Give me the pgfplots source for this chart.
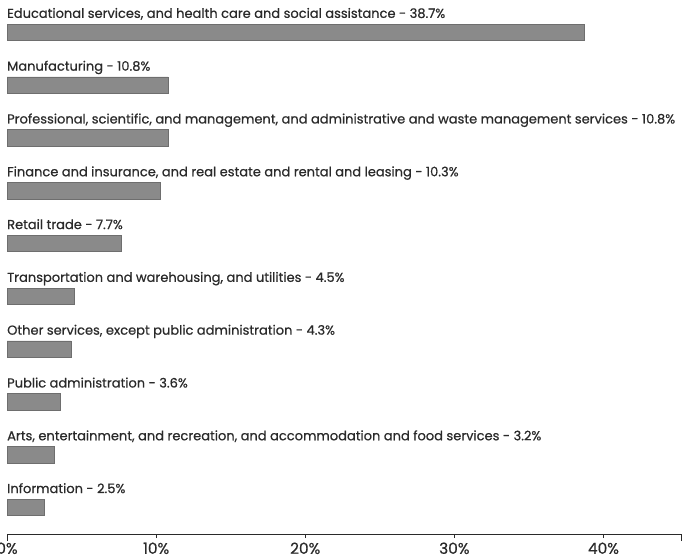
\documentclass[border=0pt]{standalone}
\usepackage{pgfplots}
\pgfplotsset{compat=1.18}
\usepackage{fontspec}
\setmainfont{Poppins}[FakeBold=0.6]
\definecolor{barfill}{HTML}{8A8A8A}
\definecolor{bardraw}{HTML}{6E6E6E}
\definecolor{txt}{HTML}{2A2A2A}
\newlength\wref
\newlength\wprof
\newlength\wtick
\begin{document}%
\settowidth\wref{\fontsize{10}{12}\selectfont Educational services, and health care and social assistance - 38.7\%}%
\settowidth\wprof{\fontsize{10}{12}\selectfont Professional, scientific, and management, and administrative and waste management services - 10.8\%}%
\settowidth\wtick{\fontsize{10}{12}\selectfont 40\%}%
\pgfmathsetmacro\labsize{5*(440/\wref+665/\wprof)}%
\pgfmathsetmacro\ticksize{10*31/\wtick}%
\begin{tikzpicture}[x=1pt,y=1pt]
\useasboundingbox (0,0) rectangle (699,558);
\begin{axis}[
  at={(7pt,24pt)}, anchor=south west,
  scale only axis,
  width=674pt, height=528pt,
  xmin=0, xmax=45.2, ymin=-0.5, ymax=9.5,
  axis x line=bottom, axis y line=none,
  axis line style={-, color=txt, line width=0.9pt},
  xtick={0,10,20,30,40},
  xticklabels={0\%,10\%,20\%,30\%,40\%},
  tick align=outside,
  major tick length=4pt,
  tick style={color=txt, line width=0.6pt},
  extra x ticks={0,45.2},
  extra x tick labels={},
  extra x tick style={major tick length=7pt, tick style={line width=0.9pt}},
  xticklabel style={font=\fontsize{\ticksize}{\ticksize}\selectfont, text=txt, yshift=-1pt},
  xbar, bar width=16.5pt,
  clip=false,
]
\addplot[fill=barfill, draw=bardraw, line width=0.8pt] coordinates {
  (38.7,9) (10.8,8) (10.8,7) (10.3,6) (7.7,5) (4.5,4) (4.3,3) (3.6,2) (3.2,1) (2.5,0)
};
\tikzset{lab/.style={anchor=base west, inner sep=0pt, font=\fontsize{\labsize}{\labsize}\selectfont, text=txt}}
\node[lab] at (axis cs:0,9.275) {Educational services, and health care and social assistance - 38.7\%};
\node[lab] at (axis cs:0,8.275) {Manufacturing - 10.8\%};
\node[lab] at (axis cs:0,7.275) {Professional, scientific, and management, and administrative and waste management services - 10.8\%};
\node[lab] at (axis cs:0,6.275) {Finance and insurance, and real estate and rental and leasing - 10.3\%};
\node[lab] at (axis cs:0,5.275) {Retail trade - 7.7\%};
\node[lab] at (axis cs:0,4.275) {Transportation and warehousing, and utilities - 4.5\%};
\node[lab] at (axis cs:0,3.275) {Other services, except public administration - 4.3\%};
\node[lab] at (axis cs:0,2.275) {Public administration - 3.6\%};
\node[lab] at (axis cs:0,1.275) {Arts, entertainment, and recreation, and accommodation and food services - 3.2\%};
\node[lab] at (axis cs:0,0.275) {Information - 2.5\%};
\end{axis}
\end{tikzpicture}%
\end{document}
